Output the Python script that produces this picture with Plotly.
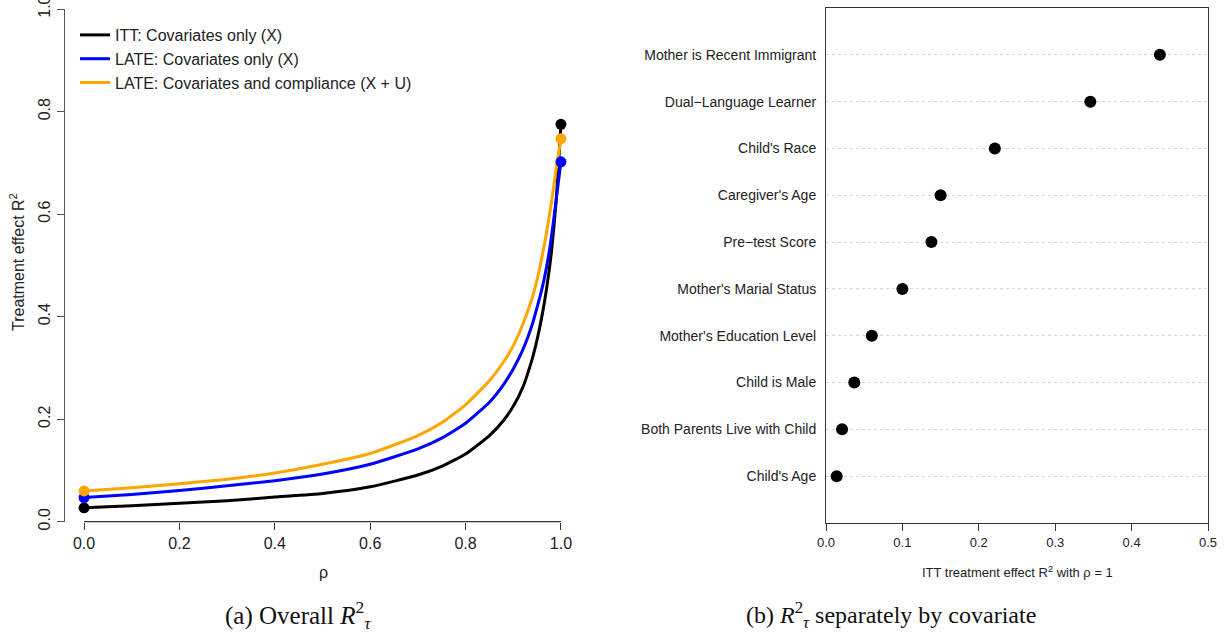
import plotly.graph_objects as go

# ---------------- data: left panel ----------------
rho = [0, 0.1, 0.2, 0.3, 0.4, 0.5, 0.6, 0.7, 0.75, 0.8, 0.85, 0.88, 0.9, 0.92,
       0.94, 0.95, 0.96, 0.97, 0.98, 0.99, 1.0]
itt_x = [0.027, 0.031, 0.036, 0.041, 0.048, 0.055, 0.068, 0.091, 0.108, 0.132,
         0.168, 0.198, 0.225, 0.262, 0.318, 0.355, 0.400, 0.455, 0.525, 0.625, 0.775]
late_x = [0.047, 0.053, 0.061, 0.070, 0.080, 0.093, 0.112, 0.142, 0.163, 0.192,
          0.233, 0.268, 0.298, 0.335, 0.385, 0.418, 0.453, 0.497, 0.555, 0.628, 0.702]
late_xu = [0.060, 0.066, 0.074, 0.083, 0.095, 0.112, 0.133, 0.168, 0.193, 0.228,
           0.275, 0.312, 0.343, 0.385, 0.437, 0.472, 0.515, 0.565, 0.622, 0.688, 0.747]
series_names = ["ITT: Covariates only (X)", "LATE: Covariates only (X)",
                "LATE: Covariates and compliance (X + U)"]
series_colors = ["#000000", "#0000FF", "#FFA500"]

# ---------------- data: right panel ----------------
covariates = ["Child's Age", "Both Parents Live with Child", "Child is Male",
              "Mother's Education Level", "Mother's Marial Status", "Pre\u2212test Score",
              "Caregiver's Age", "Child's Race", "Dual\u2212Language Learner",
              "Mother is Recent Immigrant"]
cov_r2 = [0.014, 0.021, 0.037, 0.060, 0.100, 0.138, 0.150, 0.221, 0.346, 0.437]

W, H = 1231, 640
SANS = "Liberation Sans"
SERIF = "Liberation Serif"
TXT = "#222222"

def px_x(p):
    return p / W

def px_y(p):
    return 1 - p / H

fig = go.Figure()

for name, col, vals in zip(series_names, series_colors, [itt_x, late_x, late_xu]):
    fig.add_trace(go.Scatter(x=rho, y=vals, mode="lines", name=name,
                             line=dict(color=col, width=3, shape="spline", smoothing=0.5),
                             xaxis="x", yaxis="y"))
for name, col, vals in zip(series_names, series_colors, [itt_x, late_x, late_xu]):
    fig.add_trace(go.Scatter(x=[rho[0], rho[-1]], y=[vals[0], vals[-1]], mode="markers",
                             marker=dict(color=col, size=11), showlegend=False,
                             xaxis="x", yaxis="y"))

fig.add_trace(go.Scatter(x=cov_r2, y=list(range(1, len(covariates) + 1)), mode="markers",
                         marker=dict(color="black", size=12), showlegend=False,
                         xaxis="x2", yaxis="y2"))

left_dom_x = [px_x(65), px_x(580)]
left_dom_y = [px_y(521.7), px_y(9)]
right_dom_x = [px_x(826), px_x(1208)]
right_dom_y = [px_y(523), px_y(8)]

fig.update_layout(
    width=W, height=H,
    margin=dict(l=0, r=0, t=0, b=0, autoexpand=False),
    paper_bgcolor="white", plot_bgcolor="white",
    font=dict(family=SANS, color=TXT),
    xaxis=dict(domain=left_dom_x, range=[-0.04, 1.04], tickvals=[0, 0.2, 0.4, 0.6, 0.8, 1.0],
               tickformat=".1f", ticks="outside", ticklen=7, tickcolor="#333",
               showline=False, showgrid=False, zeroline=False, automargin=False,
               tickfont=dict(size=16, family=SANS, color=TXT), anchor="y"),
    yaxis=dict(domain=left_dom_y, range=[0, 1], tickvals=[0, 0.2, 0.4, 0.6, 0.8, 1.0],
               tickformat=".1f", ticks="outside", ticklen=7, tickcolor="#555",
               showline=True, linecolor="#555", linewidth=1.3, automargin=False,
               showgrid=False, zeroline=False, tickangle=-90, ticklabeloverflow="allow",
               tickfont=dict(size=16, family=SANS, color=TXT), anchor="x"),
    xaxis2=dict(domain=right_dom_x, range=[0, 0.5], tickvals=[0, 0.1, 0.2, 0.3, 0.4, 0.5],
                tickformat=".1f", ticks="outside", ticklen=7, tickcolor="#333",
                showline=True, mirror=True, linecolor="#333", linewidth=1,
                showgrid=False, zeroline=False, automargin=False,
                tickfont=dict(size=13, family=SANS, color=TXT), anchor="y2"),
    yaxis2=dict(domain=right_dom_y, range=[0, 11], tickvals=list(range(1, len(covariates) + 1)),
                ticktext=covariates, ticks="", showline=True, mirror=True,
                linecolor="#333", linewidth=1, showgrid=True, gridcolor="#d6d6d6",
                griddash="dot", gridwidth=1, zeroline=False, ticklabelstandoff=6,
                automargin=False,
                tickfont=dict(size=14, family=SANS, color=TXT), anchor="x2"),
    legend=dict(x=px_x(75), y=px_y(18), xanchor="left", yanchor="top",
                bgcolor="rgba(0,0,0,0)", font=dict(size=16, family=SANS, color=TXT),
                itemwidth=30, tracegroupgap=0),
    showlegend=True,
)

# x-axis line for the left panel spans only the tick range (R style)
fig.add_shape(type="line", xref="x", yref="paper", x0=0, x1=1,
              y0=left_dom_y[0], y1=left_dom_y[0], line=dict(color="#333", width=1.3))

annots = [
    dict(x=px_x(17), y=px_y(262), text="Treatment effect R<sup>2</sup>", textangle=-90,
         font=dict(size=16, family=SANS, color=TXT)),
    dict(x=px_x(323), y=px_y(572), text="\u03c1", font=dict(size=16, family=SANS, color=TXT)),
    dict(x=px_x(1017), y=px_y(572), text="ITT treatment effect R<sup>2</sup> with \u03c1 = 1",
         font=dict(size=13, family=SANS, color=TXT)),
    dict(x=px_x(298), y=px_y(615), text="(a) Overall <i>R</i><sup>2</sup><sub><i>\u03c4</i></sub>",
         font=dict(size=25, family=SERIF, color="#111")),
    dict(x=px_x(891), y=px_y(615),
         text="(b) <i>R</i><sup>2</sup><sub><i>\u03c4</i></sub> separately by covariate",
         font=dict(size=24, family=SERIF, color="#111")),
]
for a in annots:
    fig.add_annotation(xref="paper", yref="paper", showarrow=False,
                       xanchor="center", yanchor="middle", **a)

fig.write_html("out.html", config={"displayModeBar": False},
               post_script="document.body.style.margin='0';document.body.style.padding='0';")
